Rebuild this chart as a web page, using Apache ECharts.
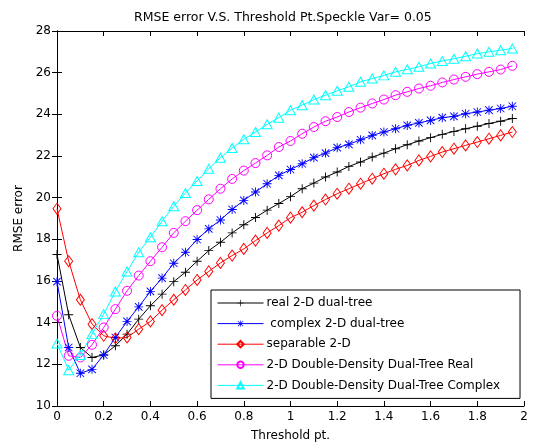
<!DOCTYPE html>
<html>
<head>
<meta charset="utf-8">
<script src="https://cdn.jsdelivr.net/npm/echarts@6/dist/echarts.min.js"></script>
<style>
  html, body { margin: 0; padding: 0; background: #fff; }
  #chart { width: 533px; height: 448px; }
</style>
</head>
<body>
<div id="chart"></div>
<script>
// threshold points
var thresholds = [0, 0.05, 0.1, 0.15, 0.2, 0.25, 0.3, 0.35, 0.4, 0.45,
  0.5, 0.55, 0.6, 0.65, 0.7, 0.75, 0.8, 0.85, 0.9, 0.95,
  1.0, 1.05, 1.1, 1.15, 1.2, 1.25, 1.3, 1.35, 1.4, 1.45,
  1.5, 1.55, 1.6, 1.65, 1.7, 1.75, 1.8, 1.85, 1.9, 1.95];

var realDT = [17.27, 14.38, 12.81, 12.33, 12.45, 12.89, 13.45, 14.17, 14.81, 15.37,
  15.97, 16.42, 16.95, 17.46, 17.86, 18.31, 18.7, 19.05, 19.4, 19.72,
  20.05, 20.43, 20.7, 20.99, 21.23, 21.5, 21.71, 21.95, 22.14, 22.35,
  22.54, 22.72, 22.88, 23.04, 23.18, 23.31, 23.43, 23.56, 23.67, 23.8];

var complexDT = [15.97, 12.81, 11.57, 11.76, 12.45, 13.29, 14.06, 14.76, 15.5, 16.14,
  16.85, 17.38, 17.99, 18.5, 18.93, 19.43, 19.87, 20.27, 20.67, 21.07,
  21.35, 21.63, 21.92, 22.14, 22.4, 22.56, 22.78, 22.99, 23.15, 23.31,
  23.47, 23.59, 23.71, 23.84, 23.9, 24.03, 24.11, 24.2, 24.28, 24.39];

var separable = [19.47, 16.95, 15.1, 13.93, 13.37, 13.25, 13.29, 13.69, 14.06, 14.6,
  15.1, 15.57, 16.05, 16.46, 16.87, 17.22, 17.54, 17.94, 18.31, 18.66,
  19.04, 19.3, 19.62, 19.91, 20.19, 20.43, 20.67, 20.91, 21.15, 21.36,
  21.55, 21.79, 21.98, 22.19, 22.35, 22.51, 22.67, 22.83, 22.99, 23.15];

var ddReal = [14.33, 12.41, 12.33, 12.94, 13.77, 14.65, 15.53, 16.26, 16.95, 17.62,
  18.31, 18.87, 19.4, 19.92, 20.43, 20.9, 21.3, 21.66, 22.03, 22.43,
  22.72, 23.07, 23.39, 23.67, 23.87, 24.11, 24.32, 24.52, 24.71, 24.92,
  25.08, 25.24, 25.37, 25.53, 25.67, 25.8, 25.93, 26.04, 26.15, 26.33];

var ddComplex = [13.0, 11.72, 12.45, 13.45, 14.41, 15.5, 16.46, 17.38, 18.1, 18.87,
  19.59, 20.22, 20.8, 21.39, 21.92, 22.38, 22.8, 23.15, 23.52, 23.84,
  24.2, 24.44, 24.71, 24.92, 25.13, 25.32, 25.56, 25.72, 25.87, 26.04,
  26.16, 26.28, 26.44, 26.56, 26.67, 26.79, 26.92, 27.0, 27.08, 27.16];

var seriesNames = ['real 2-D dual-tree', ' complex 2-D dual-tree', 'separable 2-D',
  '2-D Double-Density Dual-Tree Real', '2-D Double-Density Dual-Tree Complex'];

var plusPath = 'path://M0,4.5H10V5.5H0Z M4.5,0H5.5V10H4.5Z';
var starPath = 'path://M0,4.5H10V5.5H0Z M4.5,0H5.5V10H4.5Z M1.2,0.5L9.5,8.8L8.8,9.5L0.5,1.2Z M8.8,0.5L9.5,1.2L1.2,9.5L0.5,8.8Z';

function pairs(vals) {
  var out = [];
  for (var i = 0; i < vals.length; i++) out.push([thresholds[i], vals[i]]);
  return out;
}

function mkSeries(name, vals, color, symbol, size, hollow) {
  return {
    name: name,
    type: 'line',
    data: pairs(vals),
    symbol: symbol,
    symbolSize: size,
    showAllSymbol: true,
    animation: false,
    lineStyle: { color: color, width: 1 },
    itemStyle: hollow
      ? { color: 'rgba(0,0,0,0)', borderColor: color, borderWidth: 1 }
      : { color: color, borderWidth: 0 },
    emphasis: { disabled: true }
  };
}

var font = 'DejaVu Sans, sans-serif';

var chart = echarts.init(document.getElementById('chart'));
chart.setOption({
  backgroundColor: '#fff',
  animation: false,
  title: {
    text: 'RMSE error V.S. Threshold Pt.Speckle Var= 0.05',
    left: 129, top: 6,
    textStyle: { fontSize: 12.5, fontWeight: 'normal', color: '#000', fontFamily: font }
  },
  grid: { left: 57, right: 9, top: 31, bottom: 42 },
  legend: {
    orient: 'vertical',
    left: 211, top: 290,
    padding: [7, 20, 7, 6],
    itemGap: 8.6,
    itemWidth: 46,
    itemHeight: 8,
    backgroundColor: '#fff',
    borderColor: '#000',
    borderWidth: 1,
    lineStyle: { width: 1 },
    textStyle: { fontSize: 12, color: '#000', fontFamily: font, padding: [0, 0, 0, -2] },
    data: seriesNames
  },
  xAxis: [{
    type: 'value', min: 0, max: 2, interval: 0.2,
    name: 'Threshold pt.', nameLocation: 'middle', nameGap: 24,
    nameTextStyle: { fontSize: 12, color: '#000', fontFamily: font },
    axisLine: { lineStyle: { color: '#000' } },
    axisTick: { inside: true, length: 5, lineStyle: { color: '#000' } },
    axisLabel: { color: '#000', fontSize: 12, fontFamily: font, margin: 5 },
    splitLine: { show: false }
  }, {
    type: 'value', min: 0, max: 2, interval: 0.2, position: 'top',
    axisLine: { lineStyle: { color: '#000' } },
    axisTick: { inside: true, length: 5, lineStyle: { color: '#000' } },
    axisLabel: { show: false },
    splitLine: { show: false }
  }],
  yAxis: [{
    type: 'value', min: 10, max: 28, interval: 2,
    name: 'RMSE error', nameLocation: 'middle', nameGap: 31,
    nameTextStyle: { fontSize: 12, color: '#000', fontFamily: font },
    axisLine: { show: true, lineStyle: { color: '#000' } },
    axisTick: { show: true, inside: true, length: 5, lineStyle: { color: '#000' } },
    axisLabel: { color: '#000', fontSize: 12, fontFamily: font, margin: 6 },
    splitLine: { show: false }
  }, {
    type: 'value', min: 10, max: 28, interval: 2, position: 'right',
    axisLine: { show: true, lineStyle: { color: '#000' } },
    axisTick: { show: true, inside: true, length: 5, lineStyle: { color: '#000' } },
    axisLabel: { show: false },
    splitLine: { show: false }
  }],
  series: [
    mkSeries(seriesNames[0], realDT, '#000000', plusPath, 9, false),
    mkSeries(seriesNames[1], complexDT, '#0000ff', starPath, 9, false),
    mkSeries(seriesNames[2], separable, '#ff0000', 'diamond', [8, 11], true),
    mkSeries(seriesNames[3], ddReal, '#ff00ff', 'circle', 9, true),
    mkSeries(seriesNames[4], ddComplex, '#00ffff', 'triangle', [10, 9], true)
  ]
});
</script>
</body>
</html>
